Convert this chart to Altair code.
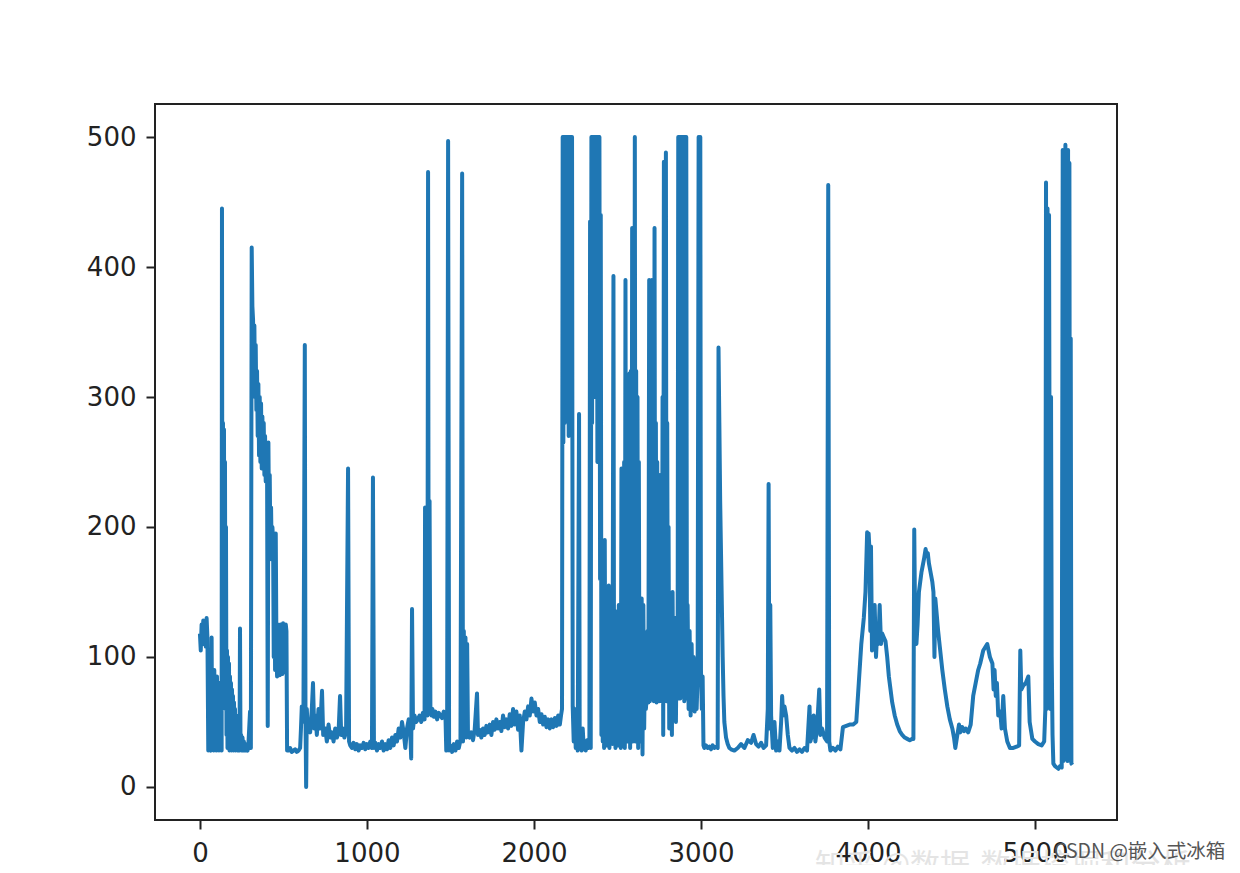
import altair as alt
import pandas as pd

# ---- data (index, value) ----
seg_1 = [(0,118),(5,105),(10,125),(15,110),(20,128),(25,112),(30,122),(35,108),(40,130),(45,115),(50,28),
         (55,35),(60,30),(65,28),(70,115),(73,30),(78,60),(82,28),(86,90),(90,30),(94,70),(98,28),(102,85),
         (106,32),(110,60),(114,28),(118,80),(122,30),(126,55),(130,28),
         (132,445),(135,60),(138,280),(141,120),(144,275),(147,90),(150,250),(153,60),(156,200),(159,40),
         (162,105),(165,30),(168,100),(171,35),(174,95),(177,28),(180,85),(183,40),(186,80),(189,28),
         (192,75),(195,35),(198,70),(201,28),(204,65),(207,35),(210,60),(213,28),(216,55),(219,32),
         (222,50),(225,28),(228,48),(231,30),(234,45),(237,28),(240,122),
         (243,30),(247,40),(251,28),(255,38),(259,28),(263,35),(267,28),(271,33),(275,28),
         (280,30),(285,28),(290,32),(295,45),(300,58),(305,30),
         (310,415),(314,370),(318,360),(322,330),(326,355),(330,300),(334,340),(338,290),(342,320),(346,270),
         (350,310),(354,255),(358,300),(362,250),(366,295),(370,245),(374,285),(378,250),(382,280),(386,240),
         (390,270),(394,235),(398,260),(402,250),(406,47),(410,265),(414,200),(418,240),(422,180),(426,215),
         (430,175),(434,200),(438,190),(442,100),(446,180),(450,90),(454,195),(458,110),(462,85),(466,125),
         (470,88),(474,120),(478,86),(482,125),(486,90),(490,122),(494,87),(498,126),(502,88),(506,125),
         (510,95),(514,125),(518,120),(522,28),
         (530,28),(540,30),(550,27),(560,28),(570,29),(580,27),(590,28),(600,30),
         (605,45),(610,62),(615,50),(620,60),(628,340),(632,55),(636,0),(640,60),(645,45)]

seg_2 = [(650,50),(660,42),(670,60),(677,80),(684,45),(692,55),(700,40),(710,60),(720,45),(731,74),
         (738,40),(750,45),(760,35),(770,48),(780,38),(790,42),(800,35),(810,45),(820,38),(830,42),
         (839,70),(846,40),(855,45),(865,38),(875,42),(887,245),(893,35),(900,32),(910,30),(920,34),
         (930,29),(940,33),(950,28),(960,32),(970,30),(980,34),(990,29),(1000,33),(1010,30),(1020,35),
         (1030,30),(1036,238),(1042,30),(1050,34),(1060,28),(1070,33),(1080,30),(1090,35),(1100,28),
         (1110,33),(1120,29),(1130,36),(1140,30),(1150,38),(1160,32),(1170,40),(1180,35),(1190,45),
         (1200,38),(1210,50),(1220,42),(1230,30),(1240,45),(1250,52),(1260,40),(1265,22),(1270,137),
         (1276,45),(1285,55),(1295,50)]

seg_3 = [(1305,52),(1315,55),(1325,50),(1335,57),(1345,52),(1348,215),(1352,60),(1358,210),(1362,55),
         (1366,473),(1370,58),(1375,220),(1380,62),(1386,55),(1392,60),(1400,54),(1410,58),(1420,52),
         (1430,57),(1440,55),(1450,53),(1460,58),(1470,55),(1475,28),(1480,30),(1486,497),(1492,28),
         (1500,32),(1510,27),(1520,33),(1530,28),(1540,35),(1550,30),(1560,36),(1570,472),(1575,35),
         (1580,120),(1585,40),(1590,115),(1595,38),(1600,110),(1605,40),(1615,38),(1625,42),(1635,36),
         (1645,44),(1659,72),(1665,40),(1675,44),(1685,38),(1695,45),(1705,40),(1715,47),(1725,42),
         (1735,48),(1745,40),(1755,50),(1765,44),(1775,52),(1785,45),(1795,50),(1805,43),(1815,55),
         (1825,46),(1835,52),(1845,45),(1855,56),(1865,47),(1875,60),(1885,48),(1895,58),(1905,44),
         (1915,55),(1925,28),(1935,50),(1945,58),(1955,52),(1965,62),(1975,55),(1985,68),(1995,58),
         (2005,65),(2015,55),(2025,60),(2035,50),(2045,56),(2055,48),(2065,54),(2075,46),(2085,52),
         (2095,45),(2105,52),(2115,46),(2125,53),(2135,47),(2145,55),(2155,48),(2162,55)]

seg_4 = [(2168,60),(2172,500),(2176,265),(2180,500),(2184,280),(2188,500),(2192,300),(2196,500),
         (2200,440),(2204,500),(2208,270),(2212,500),(2216,380),(2220,500),(2224,450),(2228,500),
         (2232,62),(2238,35),(2244,60),(2250,30),(2256,45),(2262,28),(2270,287),(2274,30),(2280,40),
         (2286,28),(2292,45),(2298,30),(2304,35),(2310,28),(2318,36),(2326,30),(2332,32),(2336,435),
         (2340,30),(2344,500),(2348,280),(2352,500),(2356,350),(2360,500),(2364,300),(2368,500),
         (2372,420),(2376,500),(2380,250),(2384,500),(2388,460),(2392,500),(2396,160),(2400,440),
         (2404,40),(2408,156),(2412,35),(2416,150),(2420,30),(2424,190),(2428,35),(2432,145),(2436,32),
         (2440,140),(2444,38),(2448,155),(2452,30),(2456,135),(2460,40),(2465,150),(2470,33),(2476,393),
         (2480,35),(2484,130),(2488,30),(2492,135),(2496,38),(2500,128),(2504,32),(2508,140),(2512,35),
         (2516,132),(2520,30),(2524,245),(2528,40),(2532,240),(2536,35),(2540,250),(2544,30),(2548,390),
         (2552,38),(2556,245),(2560,35),(2564,250),(2568,40),(2572,318),(2576,30),(2580,320),(2584,45),
         (2588,430),(2592,35),(2596,315),(2600,40),(2604,500),(2608,35),(2612,320),(2616,38),(2620,300),
         (2624,30),(2628,250),(2632,40),(2636,145)]

seg_5 = [(2640,35),(2645,145),(2650,25),(2655,140),(2660,45),(2665,100),(2670,60),(2675,68),(2680,120),
         (2685,65),(2690,390),(2694,66),(2698,300),(2702,68),(2706,390),(2710,70),(2714,300),(2718,66),
         (2722,430),(2726,70),(2730,280),(2734,65),(2738,250),(2742,70),(2746,200),(2750,66),(2754,240),
         (2758,68),(2762,150),(2766,66),(2770,300),(2774,40),(2778,481),(2782,68),(2786,300),(2790,488),
         (2794,66),(2798,280),(2802,70),(2806,200),(2810,45),(2814,140),(2818,68),(2822,130),(2826,40),
         (2830,150),(2834,68),(2838,100),(2842,66),(2846,130),(2850,50),(2855,120),(2860,68),(2864,500),
         (2868,70),(2872,500),(2876,68),(2880,500),(2884,120),(2888,500),(2892,70),(2896,500),(2900,66),
         (2904,500),(2908,80),(2912,500),(2916,68),(2920,140),(2926,60),(2932,120),(2938,55),(2944,110),
         (2950,65),(2956,100),(2962,58),(2968,90),(2974,60),(2980,85),(2986,500),(2990,80),(2996,500),
         (3000,90),(3005,60),(3010,85),(3015,32)]

seg_6 = [(3020,30),(3030,32),(3040,30),(3050,31),(3060,29),(3070,32),(3080,30),(3090,31),(3100,30),
         (3105,338),(3110,280),(3115,220),(3120,180),(3125,140),(3130,100),(3135,70),(3140,50),(3150,38),
         (3160,33),(3170,30),(3180,29),(3200,28),(3220,30),(3240,33),(3260,30),(3280,36),(3300,34),
         (3315,40),(3330,33),(3345,31),(3360,34),(3375,30),(3390,32),(3400,60),(3405,233),(3410,45),
         (3415,140),(3420,55),(3430,30),(3440,50),(3450,28),(3460,35),(3470,28),(3480,50),(3486,70),
         (3492,55),(3500,62),(3510,55),(3520,40),(3530,30),(3545,28),(3560,30),(3575,27),(3590,29),
         (3605,27),(3620,30),(3635,28),(3650,62),(3655,35),(3665,40),(3675,55),(3685,35),(3695,45),
         (3708,75),(3715,40),(3725,45),(3740,38),(3755,35),(3762,463),(3768,35),(3775,28),(3790,30),
         (3805,28),(3820,31),(3835,29),(3850,46),(3870,47),(3890,48),(3910,48)]

seg_7 = [(3930,50),(3945,80),(3960,110),(3975,130),(3985,150),(3995,196),(4000,190),(4004,195),
         (4008,185),(4014,120),(4018,185),(4024,105),(4030,130),(4040,140),(4048,100),(4055,120),
         (4062,110),(4070,140),(4078,110),(4085,118),(4095,115),(4105,112),(4115,100),(4125,85),
         (4135,75),(4145,65),(4160,55),(4175,48),(4190,43),(4205,40),(4220,38),(4235,37),(4250,36),
         (4265,37),(4272,37),(4277,198),(4282,130),(4290,110),(4297,125),(4305,150),(4320,165),
         (4335,175),(4345,183),(4352,178),(4358,180),(4365,172),(4375,165),(4385,158),(4392,150),
         (4398,100),(4403,145),(4410,135),(4420,120),(4430,108),(4445,90),(4460,75),(4475,62),
         (4490,52),(4505,45),(4515,38),(4523,30),(4535,40),(4545,48),(4553,42),(4565,46),(4575,43),
         (4585,45),(4600,42)]

seg_8 = [(4615,48),(4630,70),(4645,80),(4660,90),(4672,95),(4690,105),(4714,110),(4730,100),
         (4745,95),(4752,75),(4758,90),(4765,70),(4772,80),(4780,55),(4792,58),(4800,45),(4810,70),
         (4820,45),(4834,35),(4850,30),(4870,30),(4890,31),(4905,32),(4912,105),(4918,75),(4930,78),
         (4945,80),(4960,85),(4968,50),(4984,37),(5000,35),(5020,33),(5040,32),(5055,35),(5062,60),
         (5066,465),(5070,60),(5075,445),(5080,110),(5084,440),(5088,200),(5092,60),(5096,300),
         (5100,100),(5105,40),(5110,18),(5120,16),(5130,15),(5140,14),(5150,16),(5160,15),(5166,490),
         (5170,20),(5174,490),(5178,25),(5182,494),(5186,30),(5190,488),(5194,20),(5198,490),(5202,40),
         (5206,480),(5210,20),(5214,345),(5218,18),(5224,17)]

x_ticks = [0, 1000, 2000, 3000, 4000, 5000]
y_ticks = [0, 100, 200, 300, 400, 500]
watermark = "CSDN @嵌入式冰箱"
faint_watermark = "知乎 @数据-数据挖掘和分析"

rows = []
for seg in [seg_1, seg_2, seg_3, seg_4, seg_5, seg_6, seg_7, seg_8]:
    rows.extend(seg)
df = pd.DataFrame(rows, columns=["x", "y"])

FONT = "DejaVu Sans"

faint = alt.Chart(pd.DataFrame({"t": [faint_watermark]})).mark_text(
    align="left", baseline="middle", fontSize=30, font="Noto Sans CJK SC", color="#e4e4e4"
).encode(x=alt.value(660), y=alt.value(762), text="t:N")

line = alt.Chart(df).mark_line(
    color="#1f77b4", strokeWidth=4, strokeJoin="round"
).encode(
    x=alt.X("x:Q", scale=alt.Scale(domain=[-269, 5491], nice=False, zero=False),
            axis=alt.Axis(values=x_ticks, format="d", title=None, grid=False, domain=False,
                          tickSize=9, tickWidth=2, tickColor="#222", labelPadding=11,
                          labelFont=FONT, labelFontSize=26, labelColor="#222")),
    y=alt.Y("y:Q", scale=alt.Scale(domain=[-25.4, 525.4], nice=False, zero=False),
            axis=alt.Axis(values=y_ticks, format="d", title=None, grid=False, domain=False,
                          tickSize=9, tickWidth=2, tickColor="#222", labelPadding=10,
                          labelFont=FONT, labelFontSize=26, labelColor="#222")),
)

wm = alt.Chart(pd.DataFrame({"t": [watermark]})).mark_text(
    align="left", baseline="middle", fontSize=19.5, font="Noto Sans CJK SC", color="#555"
).encode(x=alt.value(899), y=alt.value(748), text="t:N")

chart = alt.layer(faint, line, wm).properties(
    width=962, height=716,
    autosize=alt.AutoSizeParams(type="none"),
    padding={"left": 147, "top": 96, "right": 115, "bottom": 45},
).configure_view(stroke="#222", strokeWidth=2)

chart.save("out.html", embed_options={"renderer": "svg", "actions": False})
